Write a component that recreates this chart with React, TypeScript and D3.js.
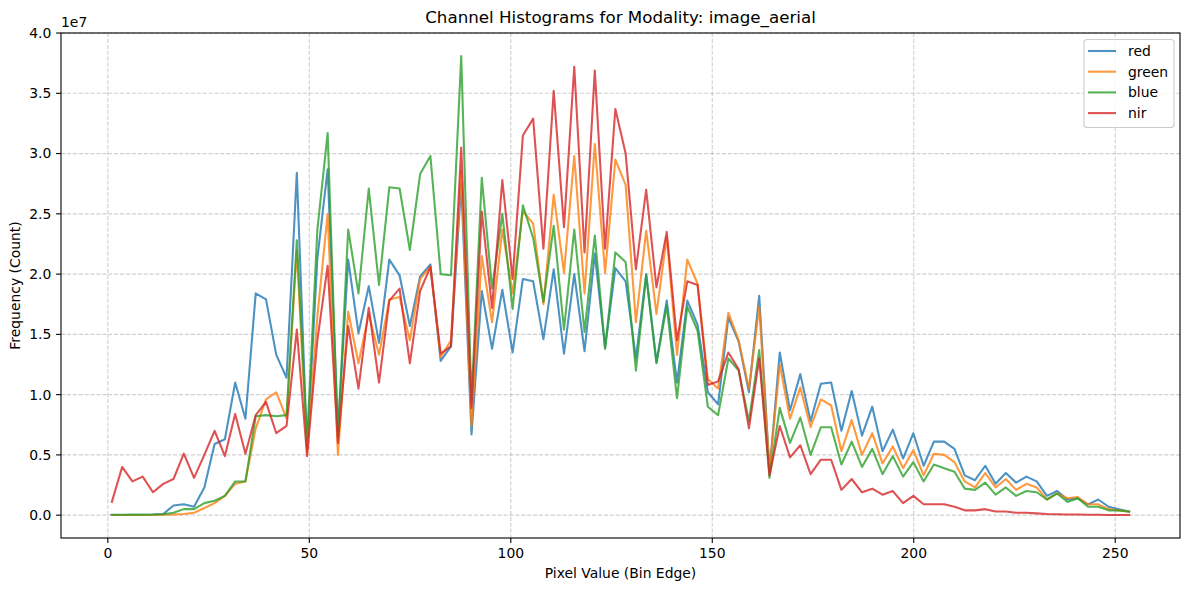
import React from 'react';
import * as d3 from 'd3';

// bins: 100 equal bins, left edges starting at 1
const BIN_START = 1;
const BIN_STEP = 2.55;
const BIN_COUNT = 100;
const binEdges = d3.range(BIN_COUNT).map(i => BIN_START + i * BIN_STEP);

// counts per bin, in units of 1e7
const redCounts = [
  0.002, 0.002, 0.003, 0.004, 0.006, 0.01, 0.08, 0.09, 0.07, 0.23,
  0.59, 0.63, 1.10, 0.80, 1.84, 1.79, 1.33, 1.14, 2.84, 0.55,
  2.13, 2.87, 0.70, 2.12, 1.51, 1.90, 1.43, 2.12, 1.99, 1.57,
  1.98, 2.08, 1.28, 1.40, 2.75, 0.67, 1.86, 1.38, 1.87, 1.35,
  1.96, 1.94, 1.46, 2.04, 1.34, 2.00, 1.36, 2.17, 1.39, 2.05,
  1.94, 1.30, 2.00, 1.27, 1.78, 1.10, 1.78, 1.58, 1.02, 0.92,
  1.64, 1.44, 1.02, 1.82, 0.36, 1.35, 0.87, 1.17, 0.78, 1.09,
  1.10, 0.70, 1.03, 0.66, 0.90, 0.53, 0.71, 0.47, 0.68, 0.41,
  0.61, 0.61, 0.55, 0.33, 0.29, 0.41, 0.26, 0.35, 0.27, 0.32,
  0.28, 0.16, 0.20, 0.13, 0.14, 0.09, 0.13, 0.07, 0.05, 0.03,
];

const greenCounts = [
  0.001, 0.001, 0.001, 0.002, 0.002, 0.003, 0.005, 0.01, 0.02, 0.06,
  0.10, 0.16, 0.26, 0.28, 0.72, 0.96, 1.02, 0.80, 2.20, 0.52,
  1.65, 2.50, 0.50, 1.69, 1.26, 1.67, 1.33, 1.79, 1.81, 1.45,
  1.96, 2.06, 1.31, 1.45, 2.85, 0.74, 2.15, 1.60, 2.37, 1.84,
  2.52, 2.42, 1.75, 2.66, 2.01, 2.98, 1.84, 3.08, 2.01, 2.95,
  2.74, 1.60, 2.36, 1.67, 2.31, 1.33, 2.12, 1.92, 1.13, 1.05,
  1.68, 1.45, 1.05, 1.73, 0.37, 1.25, 0.80, 1.06, 0.73, 0.96,
  0.91, 0.53, 0.79, 0.50, 0.68, 0.43, 0.57, 0.39, 0.54, 0.33,
  0.51, 0.50, 0.44, 0.28, 0.23, 0.35, 0.23, 0.30, 0.21, 0.26,
  0.23, 0.13, 0.18, 0.14, 0.15, 0.09, 0.09, 0.05, 0.04, 0.03,
];

const blueCounts = [
  0.003, 0.003, 0.003, 0.004, 0.005, 0.008, 0.02, 0.05, 0.05, 0.10,
  0.12, 0.16, 0.28, 0.28, 0.82, 0.83, 0.82, 0.83, 2.28, 0.62,
  2.37, 3.17, 0.65, 2.37, 1.84, 2.71, 1.91, 2.72, 2.71, 2.20,
  2.83, 2.98, 2.00, 1.99, 3.81, 0.95, 2.80, 1.88, 2.50, 1.71,
  2.57, 2.30, 1.77, 2.40, 1.54, 2.37, 1.52, 2.32, 1.38, 2.18,
  2.10, 1.20, 1.99, 1.26, 1.74, 0.97, 1.73, 1.53, 0.90, 0.83,
  1.30, 1.20, 0.78, 1.37, 0.31, 0.89, 0.60, 0.81, 0.50, 0.73,
  0.73, 0.42, 0.61, 0.40, 0.55, 0.34, 0.49, 0.32, 0.44, 0.28,
  0.42, 0.39, 0.36, 0.22, 0.21, 0.27, 0.17, 0.23, 0.16, 0.20,
  0.19, 0.13, 0.18, 0.11, 0.14, 0.07, 0.07, 0.04, 0.04, 0.03,
];

const nirCounts = [
  0.11, 0.40, 0.28, 0.32, 0.19, 0.26, 0.30, 0.51, 0.31, 0.50,
  0.70, 0.49, 0.84, 0.51, 0.83, 0.94, 0.68, 0.74, 1.54, 0.49,
  1.45, 2.07, 0.60, 1.57, 1.05, 1.72, 1.10, 1.78, 1.88, 1.26,
  1.86, 2.06, 1.34, 1.40, 3.05, 0.89, 2.52, 1.72, 2.78, 1.96,
  3.15, 3.29, 2.21, 3.52, 2.39, 3.72, 2.18, 3.69, 2.21, 3.37,
  3.00, 2.04, 2.70, 1.89, 2.35, 1.45, 1.94, 1.91, 1.08, 1.11,
  1.35, 1.21, 0.72, 1.30, 0.33, 0.74, 0.48, 0.58, 0.34, 0.46,
  0.46, 0.21, 0.30, 0.19, 0.22, 0.17, 0.20, 0.10, 0.16, 0.09,
  0.09, 0.09, 0.07, 0.04, 0.04, 0.05, 0.03, 0.03, 0.02, 0.02,
  0.015, 0.01, 0.008, 0.006, 0.005, 0.004, 0.003, 0.002, 0.002, 0.001,
];

const channelNames = ['red', 'green', 'blue', 'nir'];
const channelColors = ['#1f77b4', '#ff7f0e', '#2ca02c', '#d62728'];
const channelCounts = [redCounts, greenCounts, blueCounts, nirCounts];

const xTicks = [0, 50, 100, 150, 200, 250];
const yTicks = [0, 0.5, 1.0, 1.5, 2.0, 2.5, 3.0, 3.5, 4.0];

const W = 1189;
const H = 590;
const margin = { top: 33, right: 9, bottom: 52, left: 61 };
const FONT = 'DejaVu Sans, sans-serif';

export default function App() {
  const innerW = W - margin.left - margin.right;
  const innerH = H - margin.top - margin.bottom;

  // matplotlib style 5% padding around the data
  const [x0, x1] = d3.extent(binEdges) as [number, number];
  const allVals = channelCounts.flat();
  const yMin = d3.min(allVals) as number;
  const yMax = d3.max(allVals) as number;
  const xPad = (x1 - x0) * 0.05;
  const yPad = (yMax - yMin) * 0.05;

  const x = d3.scaleLinear().domain([x0 - xPad, x1 + xPad]).range([0, innerW]);
  const y = d3.scaleLinear().domain([yMin - yPad, yMax + yPad]).range([innerH, 0]);

  const line = d3.line<number>()
    .x((_, i) => x(binEdges[i]))
    .y(d => y(d));

  const legendX = innerW - 96;
  const legendY = 6.5;

  return (
    <svg width={W} height={H} style={{ position: 'absolute', left: 0, top: 0, background: '#fff' }}
      fontFamily={FONT}>
      <text x={W / 2 + 26} y={23} textAnchor="middle" fontSize={16.7} fill="#000">
        Channel Histograms for Modality: image_aerial
      </text>
      <g transform={`translate(${margin.left},${margin.top})`}>
        {/* grid */}
        <g stroke="#b0b0b0" strokeOpacity={0.6} strokeWidth={1.1} strokeDasharray="4.1,1.8">
          {xTicks.map(t => (
            <line key={'gx' + t} x1={x(t)} x2={x(t)} y1={0} y2={innerH} />
          ))}
          {yTicks.map(t => (
            <line key={'gy' + t} x1={0} x2={innerW} y1={y(t)} y2={y(t)} />
          ))}
        </g>

        {/* series */}
        {channelCounts.map((vals, k) => (
          <path key={channelNames[k]} d={line(vals) || ''} fill="none"
            stroke={channelColors[k]} strokeOpacity={0.8} strokeWidth={2.08}
            strokeLinejoin="round" strokeLinecap="square" />
        ))}

        {/* frame */}
        <rect x={0} y={0} width={innerW} height={innerH} fill="none" stroke="#000" strokeWidth={1.1} />

        {/* x axis */}
        {xTicks.map(t => (
          <g key={'xt' + t} transform={`translate(${x(t)},${innerH})`}>
            <line y1={0} y2={4.9} stroke="#000" strokeWidth={1.1} />
            <text y={9.7} dy="0.76em" textAnchor="middle" fontSize={13.9} fill="#000">{t}</text>
          </g>
        ))}
        <text x={innerW / 2} y={innerH + 40} textAnchor="middle" fontSize={13.9} fill="#000">
          Pixel Value (Bin Edge)
        </text>

        {/* y axis */}
        {yTicks.map(t => (
          <g key={'yt' + t} transform={`translate(0,${y(t)})`}>
            <line x1={0} x2={-4.9} stroke="#000" strokeWidth={1.1} />
            <text x={-9.7} dy="0.35em" textAnchor="end" fontSize={13.9} fill="#000">{t.toFixed(1)}</text>
          </g>
        ))}
        <text x={0} y={-6} fontSize={13.9} fill="#000">1e7</text>
        <text transform={`translate(${-41},${innerH / 2}) rotate(-90)`} textAnchor="middle"
          fontSize={13.9} fill="#000">
          Frequency (Count)
        </text>

        {/* legend */}
        <g transform={`translate(${legendX},${legendY})`}>
          <rect x={0} y={0} width={90} height={88} rx={3} fill="#fff" fillOpacity={0.8}
            stroke="#cccccc" strokeWidth={1.1} />
          {channelNames.map((name, k) => (
            <g key={'lg' + name} transform={`translate(4,${11.5 + k * 20.7})`}>
              <line x1={0} x2={28} stroke={channelColors[k]} strokeOpacity={0.8} strokeWidth={2.08} />
              <text x={40} dy="0.35em" fontSize={13.9} fill="#000">{name}</text>
            </g>
          ))}
        </g>
      </g>
    </svg>
  );
}
